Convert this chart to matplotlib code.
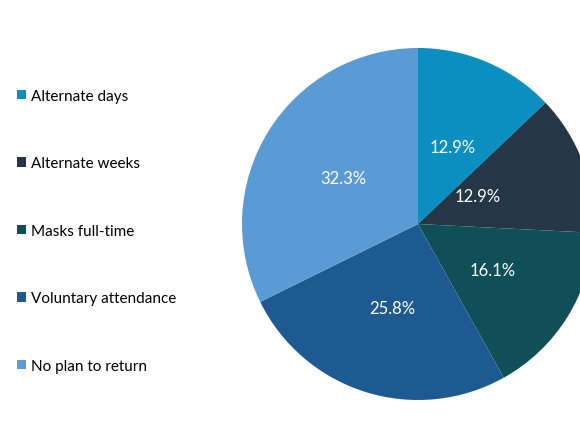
import matplotlib.pyplot as plt
from matplotlib.patches import Patch
import numpy as np

plt.rcParams['font.family'] = ['Lato', 'DejaVu Sans']

labels = ['Alternate days', 'Alternate weeks', 'Masks full-time',
          'Voluntary attendance', 'No plan to return']
shares = [12.9, 12.9, 16.1, 25.8, 32.3]
colors = ['#0b8fc0', '#253746', '#0f4f57', '#1e5a92', '#5b9bd5']

fig = plt.figure(figsize=(5.8, 4.35), dpi=100)
# pie centre ~ (418, 225) px, radius ~176 px; right edge runs off the figure
ax = fig.add_axes([242 / 580, 34 / 435, 352 / 580, 352 / 435])

wedges, texts = ax.pie(shares, colors=colors, startangle=90, counterclock=False,
                       radius=1.0, wedgeprops=dict(linewidth=0))

# percentage labels (second one sits closer to the centre in the original)
total = sum(shares)
nudge = {0: (0, -0.02), 1: (-0.01, 0.03)}
ang = 90.0
for i, (w, v) in enumerate(zip(wedges, shares)):
    span = 360.0 * v / total
    mid = np.deg2rad(ang - span / 2)
    ang -= span
    r = 0.37 if i == 1 else 0.5
    dx, dy = nudge.get(i, (0, 0))
    ax.text(r * np.cos(mid) + dx, r * np.sin(mid) + dy, f'{v:.1f}%',
            ha='center', va='center', color='white', fontsize=12)

ax.set_xlim(-1, 1)
ax.set_ylim(-1, 1)
ax.set_aspect('equal')
ax.axis('off')

handles = [Patch(facecolor=c, edgecolor='none') for c in colors]
fig.legend(handles, labels, loc='center left', bbox_to_anchor=(0.029, 0.467),
           frameon=False, fontsize=11, labelspacing=3.5,
           handlelength=0.6, handleheight=0.6, handletextpad=0.35,
           borderaxespad=0, borderpad=0)

fig.savefig('out.png', dpi=100)
